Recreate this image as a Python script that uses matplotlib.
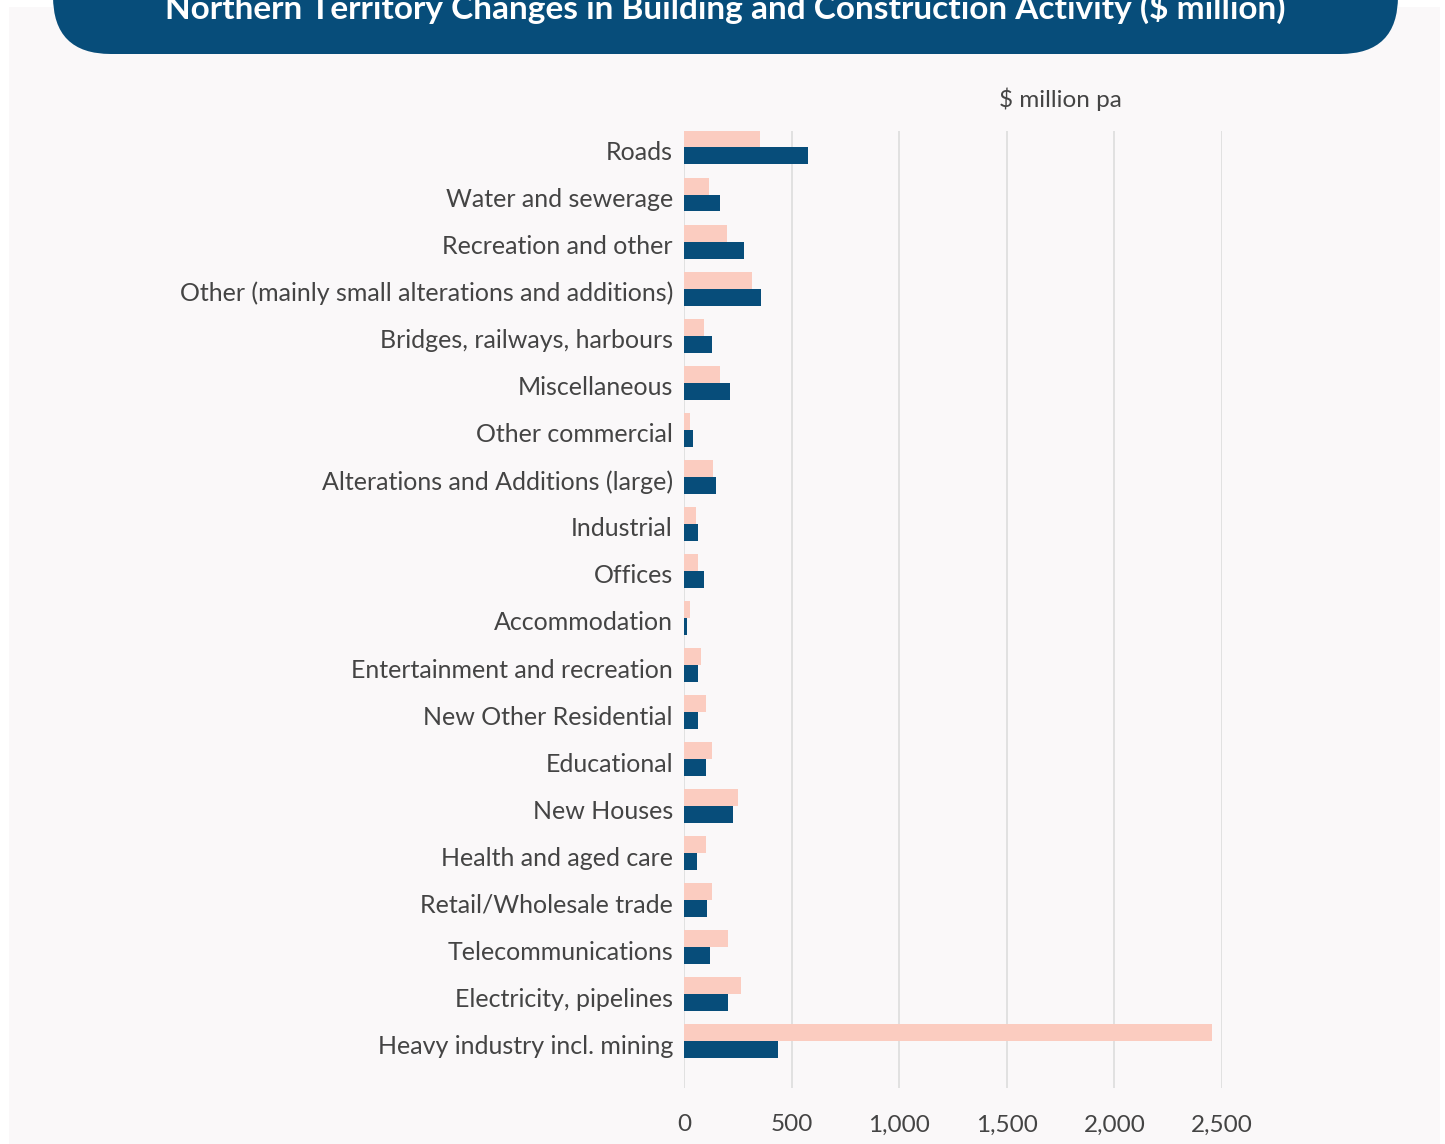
import numpy as np
import matplotlib.pyplot as plt
from matplotlib.patches import FancyBboxPatch, Rectangle
from matplotlib.transforms import ScaledTranslation

plt.rcParams['font.family'] = ['Lato', 'DejaVu Sans']

# data
categories = [
    "Roads", "Water and sewerage", "Recreation and other",
    "Other (mainly small alterations and additions)",
    "Bridges, railways, harbours", "Miscellaneous", "Other commercial",
    "Alterations and Additions (large)", "Industrial", "Offices",
    "Accommodation", "Entertainment and recreation", "New Other Residential",
    "Educational", "New Houses", "Health and aged care",
    "Retail/Wholesale trade", "Telecommunications", "Electricity, pipelines",
    "Heavy industry incl. mining",
]
series_a = [351, 114, 202, 314, 91, 165, 26, 137, 54, 63,
            26, 77, 100, 128, 252, 100, 128, 203, 263, 2454]
series_b = [574, 165, 277, 360, 128, 212, 40, 151, 63, 91,
            12, 63, 63, 100, 226, 59, 105, 119, 203, 439]
x_ticks = [0, 500, 1000, 1500, 2000, 2500]
x_tick_labels = ["0", "500", "1,000", "1,500", "2,000", "2,500"]

NAVY = "#074D7A"
PINK = "#FBCCC0"
TEXT = "#444444"
BG = "#FAF8F9"

W, H = 1445, 1144
fig = plt.figure(figsize=(W / 100, H / 100), dpi=100, facecolor="white")

# light panel behind the chart
fig.patches.append(Rectangle((9 / W, 0), (1440 - 9) / W, 1 - 7 / H,
                             transform=fig.transFigure, facecolor=BG,
                             edgecolor="none", zorder=0))

# title banner (rounded, top is cut off by the figure edge)
fig.patches.append(FancyBboxPatch((53 / W, 1 - 54 / H), (1398 - 53) / W, 140 / H,
                                  boxstyle="round,pad=0,rounding_size=0.04",
                                  mutation_aspect=W / H,
                                  transform=fig.transFigure, facecolor=NAVY,
                                  edgecolor="none", zorder=1))
fig.text(725 / W, 1 - 8 / H, "Northern Territory Changes in Building and Construction Activity ($ million)",
         ha="center", va="center", color="white", fontsize=24, fontweight="bold", zorder=2)

ax = fig.add_axes([684 / W, 1 - 1088 / H, (1222 - 684) / W, (1088 - 131) / H])
ax.set_zorder(3)
ax.set_facecolor("none")

y = np.arange(len(categories))
h = 0.36
ax.barh(y - h / 2, series_a, height=h, color=PINK, zorder=2)
ax.barh(y + h / 2, series_b, height=h, color=NAVY, zorder=2)

ax.set_xlim(0, 2500)
ax.set_ylim(19.99, -0.35)
ax.set_xticks(x_ticks)
ax.set_xticklabels(x_tick_labels)
ax.set_yticks(y)
ax.set_yticklabels(categories)
ax.tick_params(axis="both", length=0, labelsize=17.5, labelcolor=TEXT)
ax.tick_params(axis="x", pad=19)
ax.tick_params(axis="y", pad=8, labelsize=18)
ax.grid(axis="x", color="#DDDDDD", linewidth=1.2, zorder=0)
ax.set_axisbelow(True)
for s in ax.spines.values():
    s.set_visible(False)

shift = ScaledTranslation(0, -3 / 100, fig.dpi_scale_trans)
for lab in ax.get_yticklabels():
    lab.set_transform(lab.get_transform() + shift)

fig.text(1060 / W, 1 - 99 / H, "$ million pa", ha="center", va="center",
         color=TEXT, fontsize=17.5)

fig.savefig("out.png", dpi=100, facecolor="white")
